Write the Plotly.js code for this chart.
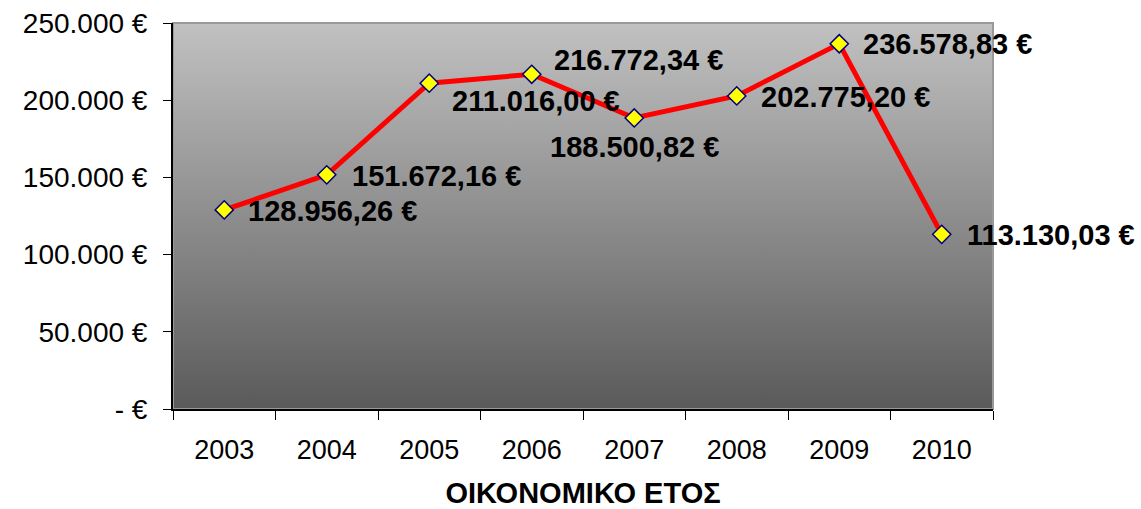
<!DOCTYPE html>
<html>
<head>
<meta charset="utf-8">
<script src="https://cdn.plot.ly/plotly-3.0.1.min.js"></script>
<style>
  html, body { margin: 0; padding: 0; background: #ffffff; }
  #chart { width: 1141px; height: 509px; }
</style>
</head>
<body>
<div id="chart"></div>
<script>
(function () {
  'use strict';

  // Data
  const years = [2003, 2004, 2005, 2006, 2007, 2008, 2009, 2010];
  const amounts = [128956.26, 151672.16, 211016.00, 216772.34, 188500.82, 202775.20, 236578.83, 113130.03];
  const yTickVals = [0, 50000, 100000, 150000, 200000, 250000];
  const yTickText = ['- €', '50.000 €', '100.000 €', '150.000 €', '200.000 €', '250.000 €'];
  const xTitle = 'ΟΙΚΟΝΟΜΙΚΟ ΕΤΟΣ';

  // Label placement relative to each marker (pixels)
  const labelAnchor = ['left', 'left', 'left', 'left', 'center', 'left', 'left', 'left'];
  const labelDx = [22, 23, 21, 20, 0, 22, 22, 23];
  const labelDy = [-1, -1, -18, 14, -29, -1, 0, -1];

  const FONT = 'Liberation Sans, Arial, sans-serif';

  // Greek style number: 128.956,26 €
  function fmtEuro(v) {
    const parts = v.toFixed(2).split('.');
    const intPart = parts[0].replace(/\B(?=(\d{3})+(?!\d))/g, '.');
    return intPart + ',' + parts[1] + ' €';
  }

  // category boundaries for the tick marks between years
  const bounds = years.map(y => y - 0.5).concat([years[years.length - 1] + 0.5]);

  // Vertical grey gradient for the plot area
  const gradSvg =
    '<svg xmlns="http://www.w3.org/2000/svg" width="100" height="100" preserveAspectRatio="none">' +
    '<defs><linearGradient id="g" x1="0" y1="0" x2="0" y2="1">' +
    '<stop offset="0" stop-color="#c1c1c1"/><stop offset="1" stop-color="#5a5a5a"/>' +
    '</linearGradient></defs><rect width="100" height="100" fill="url(#g)"/></svg>';
  const gradUri = 'data:image/svg+xml;base64,' + btoa(gradSvg);

  const trace = {
    x: years,
    y: amounts,
    type: 'scatter',
    mode: 'lines+markers',
    line: { color: '#ff0000', width: 5 },
    marker: {
      symbol: 'diamond',
      size: 14,
      color: '#ffff00',
      line: { color: '#000080', width: 1.5 }
    },
    cliponaxis: false,
    hoverinfo: 'skip'
  };

  const annotations = years.map((yr, i) => ({
    x: yr,
    y: amounts[i],
    xref: 'x',
    yref: 'y',
    text: fmtEuro(amounts[i]),
    showarrow: false,
    xanchor: labelAnchor[i],
    yanchor: 'middle',
    xshift: labelDx[i],
    yshift: labelDy[i],
    font: { family: FONT, size: 29, color: '#000000', weight: 'bold' }
  }));

  const layout = {
    width: 1141,
    height: 509,
    paper_bgcolor: '#ffffff',
    plot_bgcolor: 'rgba(0,0,0,0)',
    margin: { l: 173, r: 148, t: 23, b: 100, pad: 0 },
    showlegend: false,
    font: { family: FONT, color: '#000000' },
    images: [{
      source: gradUri,
      xref: 'paper', yref: 'paper',
      x: 0, y: 1, sizex: 1, sizey: 1,
      xanchor: 'left', yanchor: 'top',
      sizing: 'stretch',
      layer: 'below'
    }],
    shapes: [{
      type: 'rect',
      xref: 'paper', yref: 'paper',
      x0: 0, x1: 1, y0: 0, y1: 1,
      line: { color: '#999999', width: 2 },
      fillcolor: 'rgba(0,0,0,0)',
      layer: 'below'
    }],
    xaxis: {
      type: 'linear',
      range: [bounds[0], bounds[bounds.length - 1]],
      tickmode: 'array',
      tickvals: years,
      ticktext: years.map(String),
      ticks: '',
      minor: {
        tickmode: 'array',
        tickvals: bounds,
        ticks: 'outside',
        ticklen: 9,
        tickwidth: 1,
        tickcolor: '#000000',
        showgrid: false
      },
      showline: true,
      linecolor: '#000000',
      linewidth: 2,
      showgrid: false,
      zeroline: false,
      tickangle: 0,
      tickfont: { family: FONT, size: 27, color: '#000000' },
      ticklabelstandoff: 16,
      title: {
        text: xTitle,
        font: { family: FONT, size: 29, color: '#000000', weight: 'bold' },
        standoff: 28
      }
    },
    yaxis: {
      range: [0, 250000],
      tickmode: 'array',
      tickvals: yTickVals,
      ticktext: yTickText,
      ticks: 'outside',
      ticklen: 8,
      tickwidth: 1,
      tickcolor: '#000000',
      showline: true,
      linecolor: '#000000',
      linewidth: 2,
      showgrid: false,
      zeroline: false,
      tickfont: { family: FONT, size: 28, color: '#000000' },
      ticklabelstandoff: 10
    },
    annotations: annotations
  };

  Plotly.newPlot('chart', [trace], layout, { displayModeBar: false, staticPlot: true });
})();
</script>
</body>
</html>
